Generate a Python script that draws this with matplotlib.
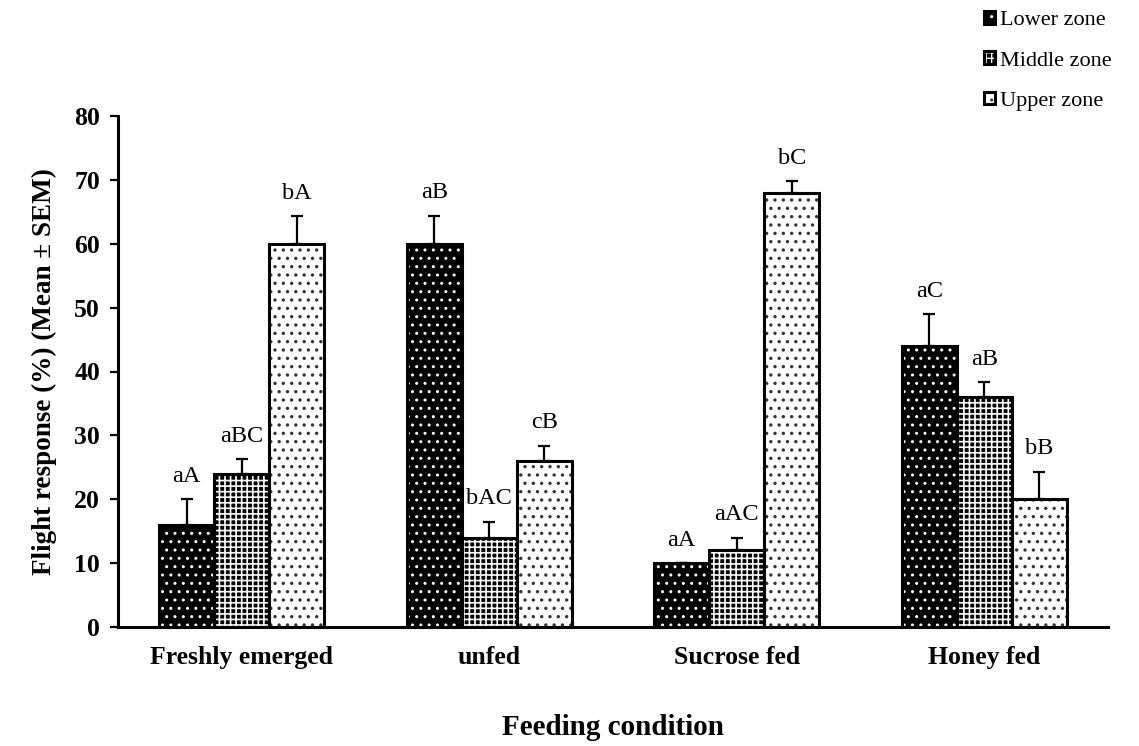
import matplotlib.pyplot as plt
import numpy as np

plt.rcParams['font.family'] = ['Liberation Serif', 'DejaVu Serif']

conditions = ['Freshly emerged', 'unfed', 'Sucrose fed', 'Honey fed']
zones = ['Lower zone', 'Middle zone', 'Upper zone']

# mean flight response (%) per zone
lower = [16, 60, 10, 44]
middle = [24, 14, 12, 36]
upper = [60, 26, 68, 20]

# SEM (drawn upward only)
lower_err = [4.0, 4.4, 0.0, 5.0]
middle_err = [2.3, 2.5, 2.0, 2.3]
upper_err = [4.3, 2.4, 1.8, 4.3]

# significance letters
lower_lbl = ['aA', 'aB', 'aA', 'aC']
middle_lbl = ['aBC', 'bAC', 'aAC', 'aB']
upper_lbl = ['bA', 'cB', 'bC', 'bB']

styles = [
    dict(facecolor='black', hatch_color='white', hatch='..', hlw=1.0),
    dict(facecolor='black', hatch_color='white', hatch='+++', hlw=1.2),
    dict(facecolor='white', hatch_color='#333333', hatch='..', hlw=1.2),
]

fig = plt.figure(figsize=(11.39, 7.46), dpi=100)
ax = fig.add_axes([118 / 1139, 1 - 627 / 746, 990 / 1139, 511 / 746])

x = np.arange(len(conditions))
width = 0.222
series = [(lower, lower_err, lower_lbl), (middle, middle_err, middle_lbl),
          (upper, upper_err, upper_lbl)]

handles = []
for i, (vals, errs, lbls) in enumerate(series):
    pos = x + (i - 1) * width
    st = styles[i]
    with plt.rc_context({'hatch.linewidth': st['hlw']}):
        fill = ax.bar(pos, vals, width, color=st['facecolor'], hatch=st['hatch'],
                      edgecolor=st['hatch_color'], linewidth=0, zorder=2)
    edge = ax.bar(pos, vals, width, fill=False, edgecolor='black',
                  linewidth=2.2, zorder=3)
    ax.errorbar(pos, vals, yerr=[np.zeros(len(errs)), errs], fmt='none',
                ecolor='black', elinewidth=1.6, capsize=4, capthick=1.6,
                zorder=4)
    for p, v, e, t in zip(pos, vals, errs, lbls):
        ax.annotate(t, (p, v + e), xytext=(0, 9), textcoords='offset points',
                    ha='center', va='bottom', fontsize=17.5)
    handles.append((fill[0], edge[0]))

ax.set_ylim(0, 80)
ax.set_xlim(-0.5, 3.5)
ax.set_yticks(range(0, 81, 10))
ax.set_xticks(x)
ax.set_xticklabels(conditions, fontsize=18.5, fontweight='bold')
for t in ax.get_yticklabels():
    t.set_fontsize(18.5)
    t.set_fontweight('bold')
ax.tick_params(axis='x', length=0, pad=14)
ax.tick_params(axis='y', direction='out', length=6, width=1.6, pad=7)

for s in ['top', 'right']:
    ax.spines[s].set_visible(False)
for s in ['left', 'bottom']:
    ax.spines[s].set_linewidth(2.2)

ax.set_ylabel('Flight response (%) (Mean ± SEM)', fontsize=19.5,
              fontweight='bold', labelpad=12)
ax.set_xlabel('Feeding condition', fontsize=21, fontweight='bold', labelpad=32)

fig.legend(handles, zones, loc='upper left', bbox_to_anchor=(973 / 1139, 1.0),
           frameon=False, fontsize=16, handlelength=0.5, handleheight=0.5,
           handletextpad=0.2, labelspacing=0.95, borderaxespad=0.1)

fig.savefig('out.png', dpi=100)
